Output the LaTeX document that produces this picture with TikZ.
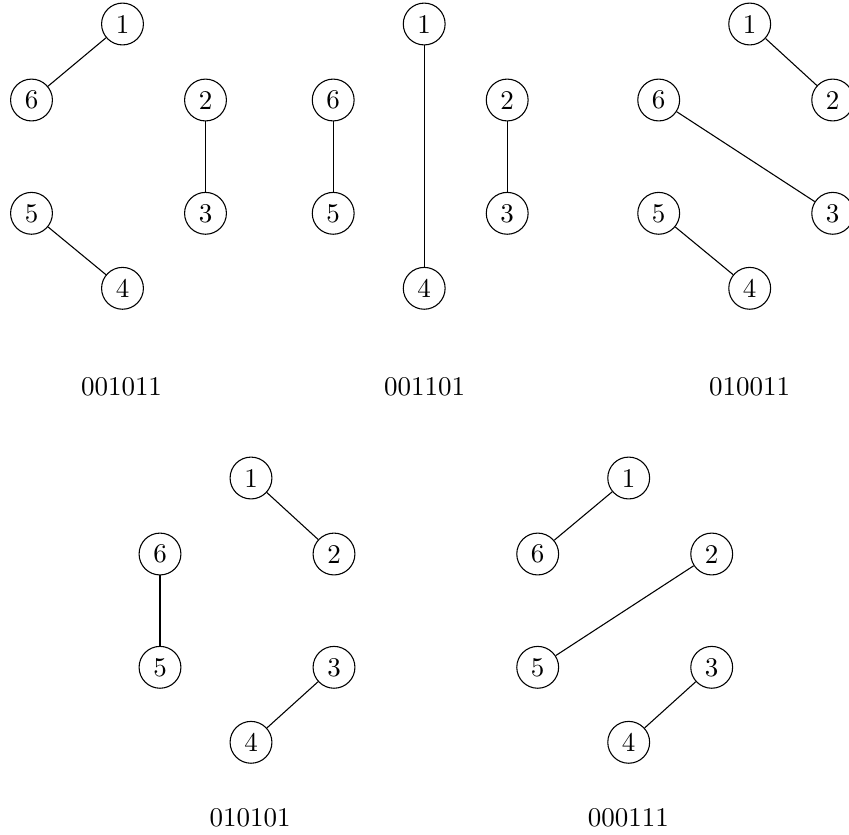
\documentclass[tikz,border=0pt]{standalone}
\tikzset{
  vtx/.style={draw, circle, minimum size=15.5pt, inner sep=0pt, line width=0.4pt},
  lbl/.style={inner sep=0pt},
  edge/.style={line width=0.4pt}
}
\newcommand\hexgrp[4]{%
  \begin{scope}[shift={(#2,#3)}]
    \node[vtx] (#1-1) at (0,0) {1};
    \node[vtx] (#1-6) at (-91,76) {6};
    \node[vtx] (#1-2) at (83,76) {2};
    \node[vtx] (#1-5) at (-91,189.3) {5};
    \node[vtx] (#1-3) at (83,189.3) {3};
    \node[vtx] (#1-4) at (0,264.3) {4};
  \end{scope}}
\begin{document}
\begin{tikzpicture}[x=0.3704pt, y=-0.3704pt]
  \useasboundingbox (0,0) rectangle (849,834);
  \hexgrp{a}{122.5}{24}{}
  \hexgrp{b}{424.2}{24}{}
  \hexgrp{c}{749.7}{24}{}
  \hexgrp{d}{251}{478}{}
  \hexgrp{e}{628.7}{478}{}
  \node[lbl] (la) at (121.5,387) {001011};
  \node[lbl] (lb) at (424.7,387) {001101};
  \node[lbl] (lc) at (749.5,387) {010011};
  \node[lbl] (ld) at (250,818) {010101};
  \node[lbl] (le) at (628.3,818) {000111};
  \draw[edge] (a-1) -- (a-6);
  \draw[edge] (a-2) -- (a-3);
  \draw[edge] (a-5) -- (a-4);
  \draw[edge] (b-6) -- (b-5);
  \draw[edge] (b-1) -- (b-4);
  \draw[edge] (b-2) -- (b-3);
  \draw[edge] (c-1) -- (c-2);
  \draw[edge] (c-6) -- (c-3);
  \draw[edge] (c-5) -- (c-4);
  \draw[edge] (d-1) -- (d-2);
  \draw[edge] (d-6) -- (d-5);
  \draw[edge] (d-3) -- (d-4);
  \draw[edge] (e-1) -- (e-6);
  \draw[edge] (e-2) -- (e-5);
  \draw[edge] (e-3) -- (e-4);
\end{tikzpicture}
\end{document}
